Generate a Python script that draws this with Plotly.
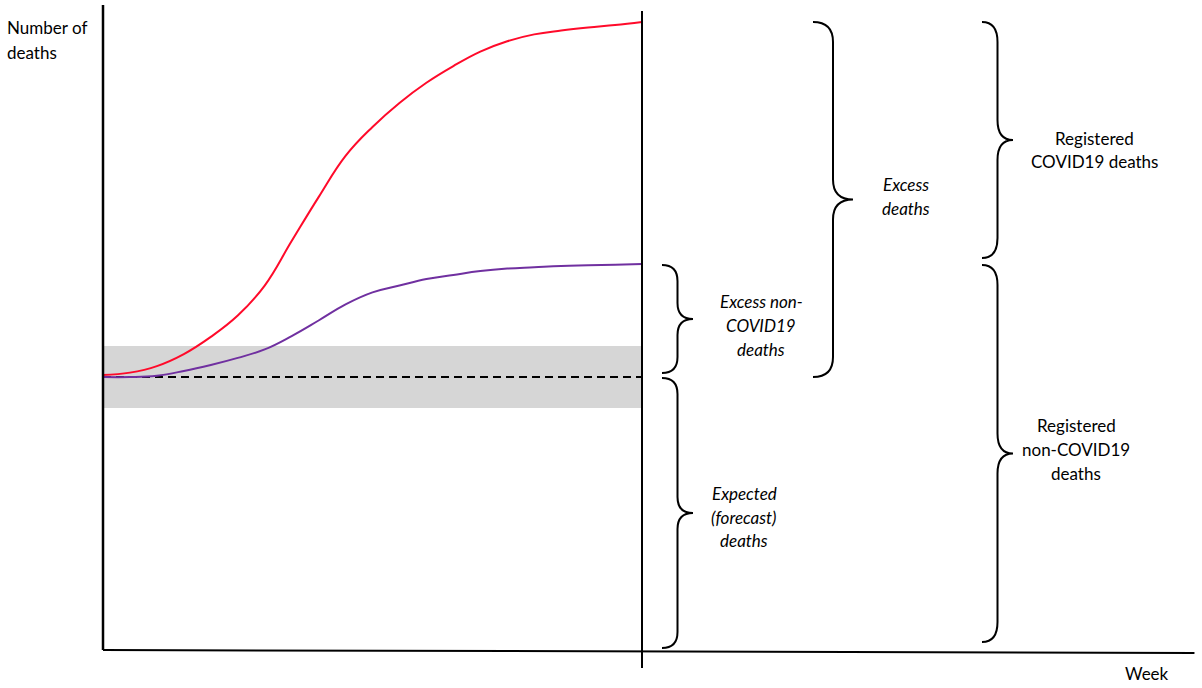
import plotly.graph_objects as go

# ---------------- data (schematic values) ----------------
weeks = list(range(21))
total_deaths = [100.7, 101.6, 104.0, 108.4, 114.7, 122.5, 133.5, 149.8, 165.9, 181.0,
                191.6, 200.4, 207.8, 213.9, 219.2, 223.0, 225.5, 226.9, 228.0, 228.9, 230.0]
non_covid_deaths = [100.0, 100.0, 100.5, 102.2, 104.4, 107.0, 110.1, 115.0, 120.7, 126.6,
                    131.0, 133.5, 135.9, 137.4, 138.8, 139.7, 140.2, 140.7, 140.9, 141.1, 141.4]
expected_level = 100.0
band_low = 88.6
band_high = 111.4
axis_week_end = 40.5
axis_deaths_top = 236.3

# ---------------- pixel <-> data mapping (figure = plot area) ----------------
W, H = 1202, 688
X0_PX, Y0_PX = 103, 650          # where week 0 / deaths 0 sit
PX_PER_WEEK = 26.95
PX_PER_DEATH = 2.73

def wk(px):
    return (px - X0_PX) / PX_PER_WEEK

def dth(py):
    return (Y0_PX - py) / PX_PER_DEATH

x_range = [wk(0), wk(W)]
y_range = [dth(H), dth(0)]

fig = go.Figure()

# uncertainty band
bx = [weeks[0], weeks[-1], weeks[-1], weeks[0], weeks[0]]
by = [band_low, band_low, band_high, band_high, band_low]
fig.add_trace(go.Scatter(x=bx, y=by, fill="toself", fillcolor="#D6D6D6",
                         line=dict(width=0), mode="lines", hoverinfo="skip"))

# expected (dashed)
fig.add_trace(go.Scatter(x=[weeks[0], weeks[-1]], y=[expected_level, expected_level],
                         mode="lines", line=dict(color="black", width=2, dash="8px,5px")))
# non-covid deaths
fig.add_trace(go.Scatter(x=weeks, y=non_covid_deaths, mode="lines",
                         line=dict(color="#7030A0", width=2, shape="spline", smoothing=1.2)))
# total deaths
fig.add_trace(go.Scatter(x=weeks, y=total_deaths, mode="lines",
                         line=dict(color="#FF0A2A", width=2, shape="spline", smoothing=1.2)))

# axes lines
fig.add_trace(go.Scatter(x=[0, 0], y=[axis_deaths_top, 0], mode="lines",
                         line=dict(color="black", width=2.5)))
fig.add_trace(go.Scatter(x=[0, axis_week_end], y=[0, dth(653)], mode="lines",
                         line=dict(color="black", width=2)))
fig.add_trace(go.Scatter(x=[weeks[-1], weeks[-1]], y=[dth(11), dth(668)], mode="lines",
                         line=dict(color="black", width=2)))

# ---------------- braces ----------------
def brace_path(x0_px, half_px, top_val, bot_val, r_px):
    x0 = wk(x0_px)
    xm = wk(x0_px + half_px)
    xt = wk(x0_px + 2 * half_px)
    r = r_px / PX_PER_DEATH
    ym = (top_val + bot_val) / 2
    return (f"M {x0},{top_val} Q {xm},{top_val} {xm},{top_val - r} "
            f"L {xm},{ym + r} Q {xm},{ym} {xt},{ym} "
            f"Q {xm},{ym} {xm},{ym - r} "
            f"L {xm},{bot_val + r} Q {xm},{bot_val} {x0},{bot_val}")

braces = [
    (662, 15.5, non_covid_deaths[-1] - 0.4, expected_level + 1.5, 16),
    (662, 15.5, expected_level - 0.4, dth(648), 16),
    (813, 20.0, total_deaths[-1], expected_level, 20),
    (982, 15.5, total_deaths[-1], dth(258), 20),
    (982, 15.5, dth(265), dth(642), 20),
]
for b in braces:
    fig.add_shape(type="path", path=brace_path(*b), xref="x", yref="y",
                  line=dict(color="black", width=2))

# ---------------- text ----------------
FONT = "Lato, 'Open Sans', sans-serif"

def label(text, px, py, italic=False, align="center"):
    if italic:
        text = f"<i>{text}</i>"
    fig.add_annotation(x=px / W, y=1 - py / H, xref="paper", yref="paper",
                       text=text, showarrow=False,
                       xanchor="left" if align == "left" else "center",
                       yanchor="middle",
                       font=dict(family=FONT, size=17, color="black"))

label("Number of", 5, 28, align="left")
label("deaths", 5, 52, align="left")
label("Week", 1147, 673)

for t, py in zip(["Excess non-", "COVID19", "deaths"], [301, 325, 349]):
    label(t, 761, py, italic=True)
for t, py in zip(["Expected", "(forecast)", "deaths"], [493, 517, 540]):
    label(t, 744, py, italic=True)
for t, py in zip(["Excess", "deaths"], [184, 208]):
    label(t, 906, py, italic=True)
for t, py in zip(["Registered", "COVID19 deaths"], [138, 162]):
    label(t, 1094, py)
for t, py in zip(["Registered", "non-COVID19", "deaths"], [425, 449, 473]):
    label(t, 1076, py)

fig.update_layout(
    width=W, height=H, margin=dict(l=0, r=0, t=0, b=0, pad=0),
    paper_bgcolor="white", plot_bgcolor="white", showlegend=False,
    xaxis=dict(range=x_range, visible=False, fixedrange=True),
    yaxis=dict(range=y_range, visible=False, fixedrange=True),
)

fig.write_html("out.html")
